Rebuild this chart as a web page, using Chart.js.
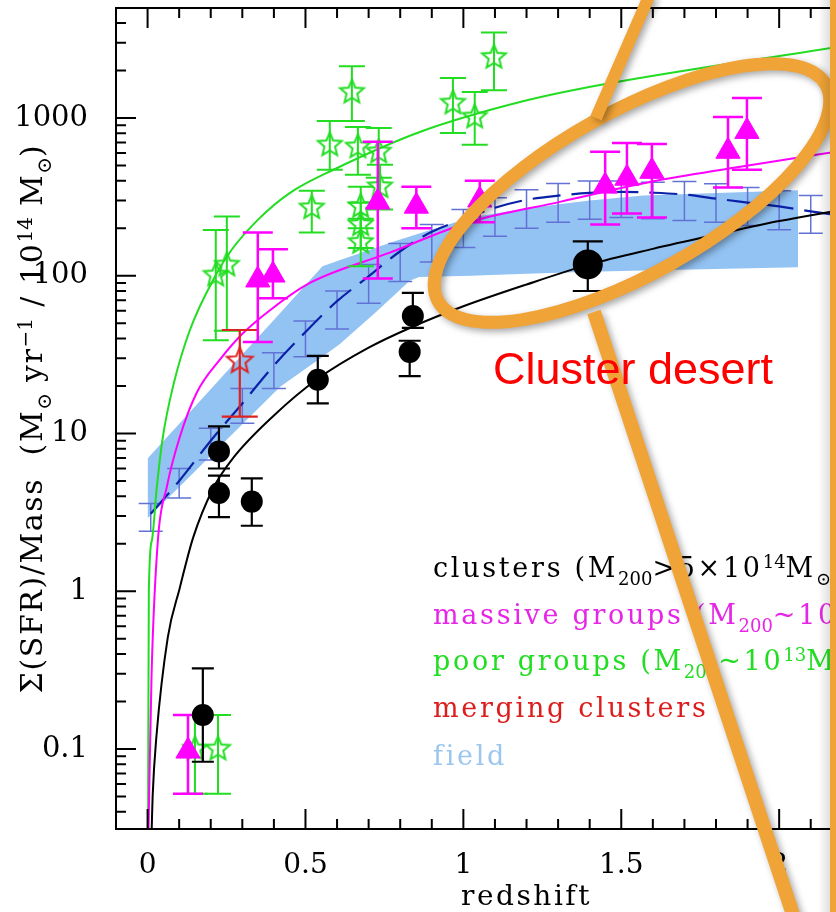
<!DOCTYPE html>
<html>
<head>
<meta charset="utf-8">
<script src="https://cdn.jsdelivr.net/npm/chart.js@4.4.1/dist/chart.umd.min.js"></script>
<style>
  html, body { margin: 0; padding: 0; background: #fff; overflow: hidden; }
  #wrap { width: 836px; height: 912px; position: relative; }
</style>
</head>
<body>
<div id="wrap"><canvas id="chart" width="836" height="912"></canvas></div>
<script>
// axis ticks
const xTicks = [0, 0.5, 1, 1.5, 2];
const xTickLabels = ['0', '0.5', '1', '1.5', '2'];
const yTicks = [0.1, 1, 10, 100, 1000];
const yTickLabels = ['0.1', '1', '10', '100', '1000'];

// clusters (black dots)
const clusterZ  = [0.175, 0.226, 0.226, 0.33, 0.539, 0.83, 0.84, 1.394];
const clusterV  = [0.164, 7.7, 4.2, 3.7, 21.9, 32.9, 55.5, 118];
const clusterHi = [0.324, 11.1, 5.4, 5.2, 31, 38.7, 77.8, 165];
const clusterLo = [0.083, 6.0, 2.95, 2.6, 15.5, 23.1, 46.7, 80];

// massive groups (magenta triangles)
const massiveZ  = [0.128, 0.349, 0.397, 0.729, 0.851, 1.052, 1.449, 1.518, 1.597, 1.838, 1.898];
const massiveV  = [0.097, 94, 101, 293, 276, 302, 370, 415, 459, 615, 822];
const massiveHi = [0.164, 188, 147, 706, 367, 400, 610, 695, 685, 1015, 1337];
const massiveLo = [0.052, 38, 72, 96, 200, 218, 211, 248, 234, 362, 470];

// poor groups (green open stars)
const poorZ  = [0.15, 0.223, 0.216, 0.251, 0.52, 0.577, 0.647, 0.666, 0.675, 0.675, 0.675, 0.732, 0.736, 0.967, 1.036, 1.097];
const poorV  = [0.1, 0.1, 101, 117, 270, 675, 1459, 656, 275, 211, 163, 610, 367, 1245, 1015, 2425];
const poorHi = [0.164, 0.164, 195, 237, 346, 957, 2128, 877, 367, 290, 230, 865, 505, 1790, 1460, 3480];
const poorLo = [0.052, 0.052, 39, 44.8, 188, 470, 957, 437, 200, 150, 115, 418, 263, 804, 676, 1500];

// merging clusters (red star)
const mergingZ  = [0.292];
const mergingV  = [28.8];
const mergingHi = [45.3];
const mergingLo = [12.8];

// field (dashed line with error bars)
const fieldZ  = [0.01, 0.1, 0.2, 0.3, 0.4, 0.5, 0.6, 0.7, 0.8, 0.9, 1.0, 1.1, 1.2, 1.3, 1.4, 1.5, 1.6, 1.7, 1.8, 1.9, 2.0, 2.1, 2.2];
const fieldV  = [3.1, 5.0, 9.0, 15.5, 27, 44, 69, 99, 143, 190, 228, 270, 303, 322, 335, 340, 336, 327, 308, 291, 275, 256, 240];
const fieldHi = [3.6, 6.0, 10.8, 19.3, 32.5, 51.6, 80, 118, 160, 211, 263, 312, 351, 385, 398, 398, 392, 395, 383, 362, 346, 322, 315];
const fieldLo = [2.4, 3.9, 6.8, 11.6, 19.3, 30.6, 46, 67, 92, 122, 151, 178, 200, 218, 228, 234, 230, 224, 218, 208, 196, 186, 180];

// field shaded band
const bandZ  = [0, 0.14, 0.24, 0.42, 0.554, 0.61, 0.72, 0.78, 0.83, 0.86, 1.025, 1.2, 1.4, 1.57, 2.06];
const bandHi = [6.95, 14.1, 23.4, 58, 115, 126, 150, 165, 177, 185, 234, 268, 300, 322, 348];
const bandLo = [2.9, 5.5, 8.7, 19.8, 30.7, 37, 58, 75, 93, 98, 100, 103, 106, 108, 113];

// model curves
const poorCurveZ = [0.0015, 0.004, 0.0136, 0.0294, 0.0484, 0.0801, 0.134, 0.216, 0.264, 0.349, 0.451, 0.587, 0.862, 1.179, 1.432, 2.2];
const poorCurveV = [0.031, 1.0, 2.1, 4.6, 9.5, 19.7, 45.3, 101, 144, 226, 335, 468, 815, 1262, 1618, 2850];
const massiveCurveZ = [0.003, 0.0127, 0.0326, 0.061, 0.102, 0.156, 0.229, 0.302, 0.397, 0.514, 0.767, 1.021, 1.306, 1.622, 1.907, 2.2];
const massiveCurveV = [0.031, 0.30, 2.1, 4.6, 9.5, 18.2, 29.4, 43.2, 62.5, 90, 140, 219, 294, 404, 501, 620];
const clusterCurveZ = [0.013, 0.016, 0.028, 0.064, 0.102, 0.144, 0.208, 0.27, 0.4, 0.54, 0.7, 0.834, 1.0, 1.2, 1.4, 1.6, 1.8, 2.0, 2.2];
const clusterCurveV = [0.031, 0.05, 0.12, 0.51, 1.05, 2.18, 4.5, 6.95, 13, 22.3, 35, 47, 64, 88, 118, 148, 182, 222, 262];

const pts = (xs, ys) => xs.map((x, i) => ({ x: x, y: ys[i] }));

const SERIF = '"DejaVu Serif", serif';
const ORANGE = '#f0a336';

function starImage(color, R, r) {
  const c = document.createElement('canvas');
  const s = Math.ceil(2 * R + 6);
  c.width = s; c.height = s;
  const g = c.getContext('2d');
  g.strokeStyle = color;
  g.lineWidth = 2;
  g.beginPath();
  for (let i = 0; i < 10; i++) {
    const rad = i % 2 ? r : R;
    const a = -Math.PI / 2 + i * Math.PI / 5;
    const px = s / 2 + rad * Math.cos(a), py = s / 2 + rad * Math.sin(a);
    if (i) g.lineTo(px, py); else g.moveTo(px, py);
  }
  g.closePath();
  g.stroke();
  return c;
}

function drawRich(ctx, parts, x, y, size, spacing) {
  const small = Math.round(size * 0.65);
  for (const [t, m] of parts) {
    ctx.font = (m ? small : size) + 'px ' + SERIF;
    ctx.letterSpacing = (m ? 0 : spacing) + 'px';
    const dy = m === 1 ? size * 0.3 : m === 2 ? -size * 0.33 : 0;
    ctx.fillText(t, x, y + dy);
    x += ctx.measureText(t).width;
  }
  return x;
}
function richWidth(ctx, parts, size, spacing) {
  const small = Math.round(size * 0.65);
  let w = 0;
  for (const [t, m] of parts) {
    ctx.font = (m ? small : size) + 'px ' + SERIF;
    ctx.letterSpacing = (m ? 0 : spacing) + 'px';
    w += ctx.measureText(t).width;
  }
  return w;
}

// error bars drawn just before each dataset's markers
const errorBars = {
  id: 'errorBars',
  beforeDatasetDraw(chart, args) {
    const ds = chart.data.datasets[args.index];
    if (!ds.errHi) return;
    const { ctx, chartArea: a } = chart;
    const xs = chart.scales.x, ys = chart.scales.y;
    ctx.save();
    ctx.beginPath();
    ctx.rect(a.left, a.top, a.right - a.left, a.bottom - a.top);
    ctx.clip();
    ctx.strokeStyle = ds.errColor;
    ctx.lineWidth = ds.errWidth;
    ds.data.forEach((p, i) => {
      const x = xs.getPixelForValue(p.x);
      const yh = ys.getPixelForValue(ds.errHi[i]);
      const yl = ys.getPixelForValue(ds.errLo[i]);
      const c = Array.isArray(ds.capHalf) ? ds.capHalf[i] : ds.capHalf;
      ctx.beginPath();
      ctx.moveTo(x, yh); ctx.lineTo(x, yl);
      ctx.moveTo(x - c, yh); ctx.lineTo(x + c, yh);
      ctx.moveTo(x - c, yl); ctx.lineTo(x + c, yl);
      ctx.stroke();
    });
    ctx.restore();
  }
};

// frame with inward ticks (pgplot style)
const frame = {
  id: 'frame',
  afterDatasetsDraw(chart) {
    const { ctx, chartArea: a } = chart;
    const xs = chart.scales.x, ys = chart.scales.y;
    ctx.save();
    ctx.strokeStyle = '#000';
    ctx.lineWidth = 2;
    ctx.beginPath();
    ctx.moveTo(a.right + 2, a.top); ctx.lineTo(a.left, a.top);
    ctx.lineTo(a.left, a.bottom); ctx.lineTo(a.right + 2, a.bottom);
    for (let k = 0; k * 0.1 <= xs.max + 1e-9; k++) {
      const px = xs.getPixelForValue(k * 0.1);
      const len = k % 5 === 0 ? 20 : 10;
      ctx.moveTo(px, a.bottom); ctx.lineTo(px, a.bottom - len);
      ctx.moveTo(px, a.top); ctx.lineTo(px, a.top + len);
    }
    for (let e = -2; e <= 3; e++) {
      for (let m = 1; m <= 9; m++) {
        const v = m * Math.pow(10, e);
        if (v < ys.min || v > ys.max) continue;
        const py = ys.getPixelForValue(v);
        ctx.moveTo(a.left, py); ctx.lineTo(a.left + (m === 1 ? 20 : 10), py);
      }
    }
    ctx.stroke();
    ctx.restore();
  }
};

// axis titles, legend text, slide annotation
const overlay = {
  id: 'overlay',
  afterDraw(chart) {
    const { ctx, chartArea: a } = chart;
    const xs = chart.scales.x;
    ctx.save();
    ctx.fillStyle = '#000';
    ctx.textBaseline = 'alphabetic';
    ctx.textAlign = 'left';

    // x title, centred on the full (uncropped) plot range
    ctx.font = '28px ' + SERIF;
    ctx.letterSpacing = '2.5px';
    const xt = 'redshift';
    const xw = ctx.measureText(xt).width;
    ctx.fillText(xt, xs.getPixelForValue(1.2) - xw / 2, 905);

    // y title
    const yParts = [['Σ(SFR)/Mass  (M', 0], ['⊙', 1], [' yr', 0], ['−1', 2], [' / 10', 0], ['14', 2], [' M', 0], ['⊙', 1], [')', 0]];
    const yw = richWidth(ctx, yParts, 30, 1.6);
    ctx.save();
    ctx.translate(42, (a.top + a.bottom) / 2 + yw / 2);
    ctx.rotate(-Math.PI / 2);
    drawRich(ctx, yParts, 0, 0, 30, 1.6);
    ctx.restore();

    // legend
    const legend = [
      ['#000000', [['clusters (M', 0], ['200', 1], ['>5×10', 0], ['14', 2], ['M', 0], ['⊙', 1], [')', 0]]],
      ['#e626e6', [['massive groups (M', 0], ['200', 1], ['~10', 0], ['14', 2], ['M', 0], ['⊙', 1], [')', 0]]],
      ['#22dd22', [['poor groups (M', 0], ['200', 1], ['~10', 0], ['13', 2], ['M', 0], ['⊙', 1], [')', 0]]],
      ['#dd1c1c', [['merging clusters', 0]]],
      ['#9cc6ef', [['field', 0]]]
    ];
    const baselines = [577, 624, 670, 717, 765];
    legend.forEach(([col, parts], i) => {
      ctx.fillStyle = col;
      drawRich(ctx, parts, 433, baselines[i], 27, 2.7);
    });
    ctx.letterSpacing = '0px';

    // orange call-out drawn on the slide
    ctx.save();
    ctx.shadowColor = 'rgba(0,0,0,0.35)';
    ctx.shadowBlur = 7;
    ctx.shadowOffsetX = 3;
    ctx.shadowOffsetY = 3;
    ctx.strokeStyle = ORANGE;
    ctx.lineWidth = 13;
    ctx.beginPath();
    ctx.ellipse(632, 193, 222, 81, -29.2 * Math.PI / 180, 0, 2 * Math.PI);
    ctx.stroke();
    ctx.lineWidth = 12;
    ctx.beginPath();
    ctx.moveTo(650, -6); ctx.lineTo(596, 118);
    ctx.stroke();
    ctx.lineWidth = 14;
    ctx.beginPath();
    ctx.moveTo(594, 312); ctx.lineTo(798, 930);
    ctx.stroke();
    ctx.restore();

    // slide edge
    const grad = ctx.createLinearGradient(818, 0, 830, 0);
    grad.addColorStop(0, 'rgba(0,0,0,0)');
    grad.addColorStop(1, 'rgba(0,0,0,0.12)');
    ctx.fillStyle = grad;
    ctx.fillRect(818, 0, 12, 912);
    ctx.fillStyle = ORANGE;
    ctx.fillRect(830, 0, 6, 912);

    ctx.fillStyle = '#ff0000';
    ctx.font = '45px "Liberation Sans", Arial, sans-serif';
    ctx.fillText('Cluster desert', 493, 384);
    ctx.restore();
  }
};

const greenStar = starImage('#22dd22', 12.5, 5.6);
const redStar = starImage('#dd2222', 13.5, 6);

new Chart(document.getElementById('chart'), {
  type: 'line',
  data: {
    datasets: [
      {
        label: 'clusters',
        data: pts(clusterZ, clusterV),
        showLine: false,
        pointStyle: 'circle',
        pointRadius: [11, 11, 11, 11, 11, 11, 11, 15],
        pointBackgroundColor: '#000',
        pointBorderColor: '#000',
        pointBorderWidth: 0,
        errHi: clusterHi, errLo: clusterLo,
        errColor: '#000', errWidth: 2.2, capHalf: [11, 11, 11, 11, 11, 11, 11, 15],
        order: 1
      },
      {
        label: 'massive groups',
        data: pts(massiveZ, massiveV),
        showLine: false,
        pointStyle: 'triangle',
        pointRadius: 14,
        pointBackgroundColor: '#ff00ff',
        pointBorderColor: '#ff00ff',
        pointBorderWidth: 1,
        errHi: massiveHi, errLo: massiveLo,
        errColor: '#ff00ff', errWidth: 2.5, capHalf: 15,
        order: 2
      },
      {
        label: 'merging clusters',
        data: pts(mergingZ, mergingV),
        showLine: false,
        pointStyle: redStar,
        pointRadius: 13,
        errHi: mergingHi, errLo: mergingLo,
        errColor: '#dd2222', errWidth: 2.2, capHalf: 18,
        order: 3
      },
      {
        label: 'poor groups',
        data: pts(poorZ, poorV),
        showLine: false,
        pointStyle: greenStar,
        pointRadius: 12,
        errHi: poorHi, errLo: poorLo,
        errColor: '#22dd22', errWidth: 2, capHalf: 13,
        order: 4
      },
      {
        label: 'clusters model',
        data: pts(clusterCurveZ, clusterCurveV),
        borderColor: '#000',
        borderWidth: 2,
        pointRadius: 0,
        cubicInterpolationMode: 'monotone',
        order: 5
      },
      {
        label: 'massive model',
        data: pts(massiveCurveZ, massiveCurveV),
        borderColor: '#ff00ff',
        borderWidth: 2,
        pointRadius: 0,
        cubicInterpolationMode: 'monotone',
        order: 5
      },
      {
        label: 'poor model',
        data: pts(poorCurveZ, poorCurveV),
        borderColor: '#22dd22',
        borderWidth: 2,
        pointRadius: 0,
        cubicInterpolationMode: 'monotone',
        order: 5
      },
      {
        label: 'field',
        data: pts(fieldZ, fieldV),
        borderColor: '#0b22a8',
        borderWidth: 2.2,
        borderDash: [28, 11],
        pointRadius: 0,
        cubicInterpolationMode: 'monotone',
        errHi: fieldHi, errLo: fieldLo,
        errColor: '#6272d4', errWidth: 1.5, capHalf: 12,
        order: 8
      },
      {
        label: 'field band top',
        data: pts(bandZ, bandHi),
        borderColor: 'rgba(0,0,0,0)',
        borderWidth: 0,
        pointRadius: 0,
        tension: 0,
        backgroundColor: '#93c3f3',
        fill: '+1',
        order: 10
      },
      {
        label: 'field band bottom',
        data: pts(bandZ, bandLo),
        borderColor: 'rgba(0,0,0,0)',
        borderWidth: 0,
        pointRadius: 0,
        tension: 0,
        fill: false,
        order: 10
      }
    ]
  },
  options: {
    responsive: false,
    animation: false,
    events: [],
    layout: { padding: 0, autoPadding: false },
    plugins: { legend: { display: false }, tooltip: { enabled: false } },
    scales: {
      x: {
        type: 'linear',
        min: -0.1,
        max: 2.18,
        grid: { display: false },
        border: { display: false },
        afterFit: (s) => { s.height = 83; s.paddingLeft = 0; s.paddingRight = 0; },
        afterBuildTicks: (s) => { s.ticks = xTicks.map(v => ({ value: v })); },
        ticks: {
          autoSkip: false,
          maxRotation: 0,
          padding: 12,
          color: '#000',
          font: { family: 'DejaVu Serif', size: 28 },
          callback: (v, i) => xTickLabels[i]
        }
      },
      y: {
        type: 'logarithmic',
        min: 0.0311,
        max: 4980,
        grid: { display: false },
        border: { display: false },
        afterFit: (s) => { s.width = 116; s.paddingTop = 8; s.paddingBottom = 0; },
        afterBuildTicks: (s) => { s.ticks = yTicks.map(v => ({ value: v })); },
        ticks: {
          autoSkip: false,
          padding: 20,
          color: '#000',
          font: { family: 'DejaVu Serif', size: 29 },
          callback: (v, i) => yTickLabels[i]
        }
      }
    }
  },
  plugins: [errorBars, frame, overlay]
});
</script>
</body>
</html>
